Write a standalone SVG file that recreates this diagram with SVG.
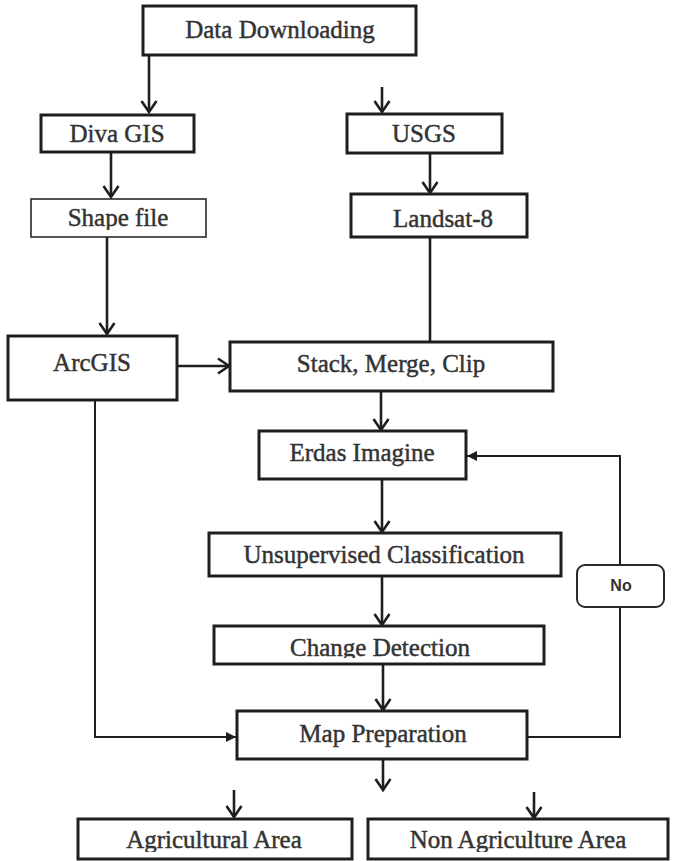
<svg xmlns="http://www.w3.org/2000/svg" width="677" height="861" viewBox="0 0 677 861">
  <style>
    .box { fill: #ffffff; stroke: #1e1e1e; stroke-width: 3; }
    .thin { fill: #ffffff; stroke: #2a2a2a; stroke-width: 1.6; }
    .pill { fill: #ffffff; stroke: #2a2a2a; stroke-width: 2; }
    .lbl { font-family: "Liberation Serif", "Times New Roman", serif; font-size: 25px; fill: #333333; stroke: #333333; stroke-width: 0.45; text-anchor: middle; }
    .sans { font-family: "Liberation Sans", Arial, sans-serif; font-size: 16px; font-weight: bold; fill: #333333; text-anchor: middle; }
    .wire { fill: none; stroke: #1e1e1e; stroke-width: 2.6; }
    .loop { fill: none; stroke: #1e1e1e; stroke-width: 2; }
  </style>
  <defs>
    <marker id="open" viewBox="-13 -9 15 18" refX="0" refY="0" markerWidth="15" markerHeight="18" markerUnits="userSpaceOnUse" orient="auto">
      <path d="M-11,-7.5 L0,0 L-11,7.5" fill="none" stroke="#1e1e1e" stroke-width="2.6" stroke-linejoin="miter"/>
    </marker>
    <marker id="solid" viewBox="-11 -6 12 12" refX="0" refY="0" markerWidth="12" markerHeight="12" markerUnits="userSpaceOnUse" orient="auto">
      <path d="M-10,-5 L0,0 L-10,5 Z" fill="#1e1e1e"/>
    </marker>
    <!-- descenders of these labels are cut just above the box edge -->
    <clipPath id="cutShape"><rect x="31" y="199" width="175" height="31"/></clipPath>
    <clipPath id="cutChange"><rect x="214" y="626" width="330" height="32"/></clipPath>
    <clipPath id="cutAgri"><rect x="78" y="819" width="274" height="33"/></clipPath>
    <clipPath id="cutNon"><rect x="368" y="819" width="300" height="33"/></clipPath>
  </defs>

  <g id="connectors">
    <path class="wire" d="M149,55 V112" marker-end="url(#open)"/>
    <path class="wire" d="M382,87 V112" marker-end="url(#open)"/>
    <path class="wire" d="M111,152 V197" marker-end="url(#open)"/>
    <path class="wire" d="M430,153 V193" marker-end="url(#open)"/>
    <path class="wire" d="M107,237 V334" marker-end="url(#open)"/>
    <path class="wire" d="M430,237 V342"/>
    <path class="wire" d="M177,366 H229" marker-end="url(#open)"/>
    <path class="wire" d="M381,391 V430" marker-end="url(#open)"/>
    <path class="wire" d="M382,479 V532" marker-end="url(#open)"/>
    <path class="wire" d="M382,576 V625" marker-end="url(#open)"/>
    <path class="wire" d="M383,664 V710" marker-end="url(#open)"/>
    <path class="loop" d="M95,400 V737 H236" marker-end="url(#solid)"/>
    <path class="loop" d="M527,737 H620 V606"/>
    <path class="loop" d="M620,565 V456 H467" marker-end="url(#solid)"/>
    <path class="wire" d="M383,759 V790" marker-end="url(#open)"/>
    <path class="wire" d="M234,790 V817" marker-end="url(#open)"/>
    <path class="wire" d="M534,792 V818" marker-end="url(#open)"/>
  </g>

  <g id="data-downloading">
    <rect class="box" x="143" y="6" width="273" height="49"/>
    <text class="lbl" x="280" y="38">Data Downloading</text>
  </g>
  <g id="diva-gis">
    <rect class="box" x="41" y="115" width="153" height="37"/>
    <text class="lbl" x="117" y="142">Diva GIS</text>
  </g>
  <g id="usgs">
    <rect class="box" x="347" y="114" width="155" height="39"/>
    <text class="lbl" x="424" y="142">USGS</text>
  </g>
  <g id="shape-file">
    <rect class="thin" x="31" y="199" width="175" height="38"/>
    <text class="lbl" x="118" y="226" clip-path="url(#cutShape)">Shape file</text>
  </g>
  <g id="landsat-8">
    <rect class="box" x="351" y="194" width="176" height="43"/>
    <text class="lbl" x="443" y="227">Landsat-8</text>
  </g>
  <g id="arcgis">
    <rect class="box" x="8" y="336" width="169" height="64"/>
    <text class="lbl" x="92" y="371">ArcGIS</text>
  </g>
  <g id="stack-merge-clip">
    <rect class="box" x="230" y="342" width="323" height="49"/>
    <text class="lbl" x="391" y="372">Stack, Merge, Clip</text>
  </g>
  <g id="erdas-imagine">
    <rect class="box" x="259" y="431" width="207" height="48"/>
    <text class="lbl" x="362" y="461">Erdas Imagine</text>
  </g>
  <g id="unsupervised-classification">
    <rect class="box" x="209" y="533" width="352" height="43"/>
    <text class="lbl" x="384" y="563">Unsupervised Classification</text>
  </g>
  <g id="no">
    <rect class="pill" x="577" y="565" width="87" height="42" rx="8" ry="8"/>
    <text class="sans" x="621" y="591">No</text>
  </g>
  <g id="change-detection">
    <rect class="box" x="214" y="626" width="330" height="38"/>
    <text class="lbl" x="380" y="656" clip-path="url(#cutChange)">Change Detection</text>
  </g>
  <g id="map-preparation">
    <rect class="box" x="237" y="711" width="290" height="48"/>
    <text class="lbl" x="383" y="742">Map Preparation</text>
  </g>
  <g id="agricultural-area">
    <rect class="box" x="78" y="819" width="274" height="40"/>
    <text class="lbl" x="214" y="848" clip-path="url(#cutAgri)">Agricultural Area</text>
  </g>
  <g id="non-agriculture-area">
    <rect class="box" x="368" y="819" width="300" height="40"/>
    <text class="lbl" x="518" y="848" clip-path="url(#cutNon)">Non Agriculture Area</text>
  </g>
</svg>
